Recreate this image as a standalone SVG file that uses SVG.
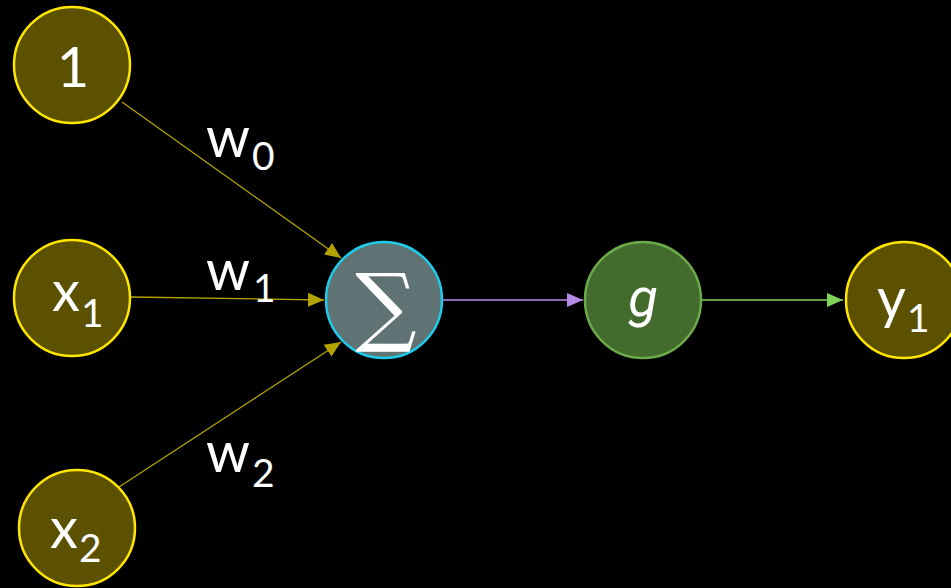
<svg xmlns="http://www.w3.org/2000/svg" width="951" height="588" viewBox="0 0 951 588">
<style>
.in{fill:#5C5100;stroke:#FFE600;stroke-width:2.5}
.t{fill:#fff;font-family:Lato,"Open Sans",sans-serif;font-size:56px}
.s{font-size:39px}
.gi{fill:#fff;font-family:Roboto,"Liberation Sans",sans-serif;font-size:54px;font-style:italic}
.e{fill:none;stroke-width:1.3}
</style>
<defs>
<marker id="ay" markerWidth="16" markerHeight="14" refX="16" refY="7" orient="auto" markerUnits="userSpaceOnUse"><path d="M0,0L16,7L0,14z" fill="#B3A300"/></marker>
<marker id="ap" markerWidth="16" markerHeight="14" refX="16" refY="7" orient="auto" markerUnits="userSpaceOnUse"><path d="M0,0L16,7L0,14z" fill="#B88AE8"/></marker>
<marker id="ag" markerWidth="16" markerHeight="14" refX="16" refY="7" orient="auto" markerUnits="userSpaceOnUse"><path d="M0,0L16,7L0,14z" fill="#7FD35A"/></marker>
</defs>
<rect width="951" height="588" fill="#000"/>
<g id="connectors">
<line class="e" x1="122" y1="102" x2="341" y2="258" stroke="#B3A300" marker-end="url(#ay)"/>
<line class="e" x1="131" y1="297" x2="324" y2="300" stroke="#B3A300" marker-end="url(#ay)"/>
<line class="e" x1="119" y1="487" x2="341" y2="342" stroke="#B3A300" marker-end="url(#ay)"/>
<line class="e" x1="443" y1="300" x2="583" y2="300" stroke="#B88AE8" marker-end="url(#ap)"/>
<line class="e" x1="702" y1="300" x2="843" y2="300" stroke="#7FD35A" marker-end="url(#ag)"/>
</g>
<g id="labels">
<text class="t" x="206" y="157">w<tspan class="s" dx="2" dy="13">0</tspan></text>
<text class="t" x="206" y="290">w<tspan class="s" dx="3" dy="12">1</tspan></text>
<text class="t" x="206" y="472">w<tspan class="s" dx="2" dy="15">2</tspan></text>
</g>
<g id="n1"><circle class="in" cx="72" cy="65" r="58"/><text class="t" x="73" y="87" text-anchor="middle">1</text></g>
<g id="nx1"><circle class="in" cx="72" cy="298" r="58"/><text class="t" x="52" y="311">x<tspan class="s" dx="1" dy="16">1</tspan></text></g>
<g id="nx2"><circle class="in" cx="77" cy="528" r="58"/><text class="t" x="50" y="548">x<tspan class="s" dx="1" dy="14">2</tspan></text></g>
<g id="sum"><circle cx="384" cy="300" r="58" fill="#5F7374" stroke="#1FCBEA" stroke-width="2.5"/><text x="386" y="335" text-anchor="middle" fill="#fff" font-family="'DejaVu Serif',serif" font-size="86">∑</text></g>
<g id="g"><circle cx="643" cy="300" r="58" fill="#436B2D" stroke="#6AAB48" stroke-width="2.5"/><text class="gi" x="643" y="316" text-anchor="middle">g</text></g>
<g id="y1"><circle class="in" cx="904" cy="300" r="58"/><text class="t" x="877" y="318">y<tspan class="s" dx="1" dy="14">1</tspan></text></g>
</svg>
